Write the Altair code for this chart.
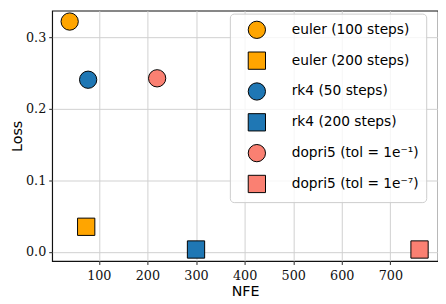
import altair as alt
import pandas as pd

methods = ["euler (100 steps)", "euler (200 steps)", "rk4 (50 steps)",
           "rk4 (200 steps)", "dopri5 (tol = 1e⁻¹)", "dopri5 (tol = 1e⁻⁷)"]
nfe = [40, 74, 78, 300, 220, 760]
loss = [0.3224, 0.0353, 0.241, 0.0035, 0.243, 0.0035]
colors = ["#FFA500", "#FFA500", "#1f77b4", "#1f77b4", "#FA8072", "#FA8072"]
shapes = ["circle", "square", "circle", "square", "circle", "square"]
x_ticks = [100, 200, 300, 400, 500, 600, 700]
y_ticks = [0.0, 0.1, 0.2, 0.3]

df = pd.DataFrame({"method": methods, "NFE": nfe, "Loss": loss})

legend = alt.Legend(
    title=None, orient="none", legendX=181, legendY=3,
    labelFont="DejaVu Sans", labelFontSize=14, labelColor="#000",
    symbolStrokeColor="#000", symbolStrokeWidth=1, symbolSize=310,
    padding=7, rowPadding=8.4, labelOffset=26, symbolOffset=11,
    strokeColor="#cccccc", fillColor="rgba(255,255,255,0.8)", cornerRadius=4,
)

axis_common = dict(
    domain=False, grid=True, gridColor="#d0d0d0", gridWidth=1,
    tickColor="#222", tickSize=3.5, tickWidth=1,
    labelFont="DejaVu Serif", labelFontSize=13, labelColor="#111",
    titleFont="DejaVu Sans", titleFontSize=14.5, titleFontWeight="normal", titleColor="#000",
)

chart = alt.Chart(df).mark_point(filled=True, opacity=1, size=310, stroke="#000", strokeWidth=1).encode(
    x=alt.X("NFE:Q", scale=alt.Scale(domain=[4, 798], nice=False, zero=False),
            axis=alt.Axis(values=x_ticks, title="NFE", labelPadding=5, titlePadding=3, **axis_common)),
    y=alt.Y("Loss:Q", scale=alt.Scale(domain=[-0.0126, 0.3376], nice=False, zero=False),
            axis=alt.Axis(values=y_ticks, format=".1f", title="Loss", labelPadding=3, titlePadding=1, **axis_common)),
    color=alt.Color("method:N", scale=alt.Scale(domain=methods, range=colors), legend=legend),
    shape=alt.Shape("method:N", scale=alt.Scale(domain=methods, range=shapes), legend=legend),
).properties(
    width=393, height=255, padding={"left": 1, "top": 0, "right": 0, "bottom": 0}
).configure_view(
    stroke="#111", strokeWidth=1.2
)

chart.save("out.html", embed_options={"renderer": "svg", "actions": False})
